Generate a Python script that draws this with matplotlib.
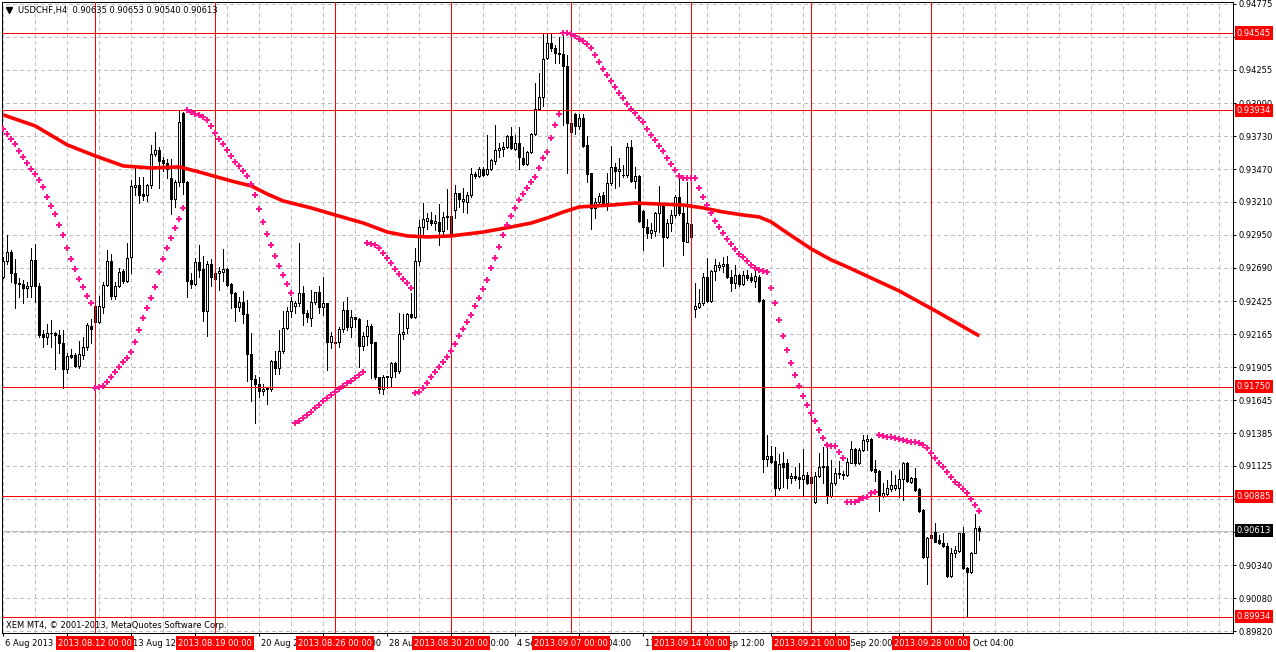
import matplotlib
matplotlib.use("Agg")
import matplotlib.pyplot as plt
import numpy as np

# ---- data ------------------------------------------------------------------
opens = [
    0.92620, 0.92747, 0.92813, 0.92647, 0.92573, 0.92563, 0.92528, 0.92547, 0.92750, 0.92547,
    0.92165, 0.92147, 0.92173, 0.92173, 0.92160, 0.92094, 0.91889, 0.91999, 0.91999, 0.91917,
    0.91999, 0.92068, 0.92231, 0.92389, 0.92265, 0.92384, 0.92555, 0.92744, 0.92470, 0.92547,
    0.92665, 0.92589, 0.92773, 0.93326, 0.93345, 0.93271, 0.93266, 0.93345, 0.93587, 0.93622,
    0.93543, 0.93516, 0.93398, 0.93232, 0.93366, 0.93911, 0.93366, 0.92595, 0.92560, 0.92734,
    0.92682, 0.92345, 0.92718, 0.92647, 0.92647, 0.92655, 0.92682, 0.92560, 0.92489, 0.92384,
    0.92418, 0.92324, 0.92008, 0.91813, 0.91776, 0.91713, 0.91734, 0.91734, 0.91950, 0.91902,
    0.92029, 0.92212, 0.92352, 0.92389, 0.92410, 0.92489, 0.92336, 0.92291, 0.92423, 0.92497,
    0.92378, 0.92410, 0.92107, 0.92107, 0.92107, 0.92204, 0.92357, 0.92220, 0.92299, 0.92283,
    0.92075, 0.92152, 0.92233, 0.92102, 0.91825, 0.91731, 0.91825, 0.91831, 0.91941, 0.91878,
    0.92168, 0.92212, 0.92323, 0.92299, 0.92744, 0.93010, 0.93063, 0.93068, 0.93042, 0.93050,
    0.92984, 0.93089, 0.93100, 0.93147, 0.93279, 0.93221, 0.93213, 0.93266, 0.93432, 0.93416,
    0.93468, 0.93429, 0.93468, 0.93537, 0.93621, 0.93632, 0.93642, 0.93732, 0.93626, 0.93674,
    0.93561, 0.93508, 0.93603, 0.93748, 0.93942, 0.94042, 0.94345, 0.94464, 0.94424, 0.94390,
    0.94379, 0.94285, 0.93837, 0.93906, 0.93811, 0.93871, 0.93661, 0.93437, 0.93160, 0.93213,
    0.93266, 0.93205, 0.93358, 0.93484, 0.93458, 0.93424, 0.93424, 0.93642, 0.93379, 0.93416,
    0.93142, 0.93016, 0.92968, 0.92984, 0.93126, 0.93195, 0.92931, 0.93047, 0.93105, 0.93252,
    0.93126, 0.92897, 0.93037, 0.92363, 0.92384, 0.92410, 0.92615, 0.92431, 0.92665, 0.92699,
    0.92705, 0.92720, 0.92615, 0.92573, 0.92634, 0.92562, 0.92634, 0.92615, 0.92589, 0.92615,
    0.92436, 0.91178, 0.91204, 0.91164, 0.90948, 0.91146, 0.91146, 0.91027, 0.91046, 0.91035,
    0.91020, 0.91054, 0.91041, 0.90843, 0.91046, 0.91125, 0.91125, 0.90888, 0.90988, 0.91062,
    0.91062, 0.91054, 0.91151, 0.91256, 0.91146, 0.91251, 0.91325, 0.91335, 0.91098, 0.91085,
    0.90888, 0.90903, 0.90940, 0.90948, 0.90948, 0.91019, 0.91151, 0.91001, 0.91027, 0.90943,
    0.90777, 0.90403, 0.90580, 0.90606, 0.90540, 0.90514, 0.90493, 0.90256, 0.90435, 0.90456,
    0.90593, 0.90316, 0.90290, 0.90440, 0.90635,
]
highs = [
    0.92779, 0.92950, 0.92831, 0.92757, 0.92613, 0.92594, 0.92581, 0.92844, 0.92879, 0.92573,
    0.92199, 0.92247, 0.92278, 0.92186, 0.92199, 0.92199, 0.92015, 0.92047, 0.92015, 0.92112,
    0.92141, 0.92252, 0.92283, 0.92402, 0.92468, 0.92581, 0.92831, 0.92800, 0.92581, 0.92686,
    0.92678, 0.92884, 0.93384, 0.93476, 0.93405, 0.93410, 0.93350, 0.93661, 0.93761, 0.93648,
    0.93569, 0.93550, 0.93550, 0.93385, 0.93934, 0.93920, 0.93377, 0.92647, 0.92766, 0.92871,
    0.92787, 0.92740, 0.92761, 0.92687, 0.92700, 0.92840, 0.92692, 0.92568, 0.92497, 0.92463,
    0.92503, 0.92437, 0.92173, 0.91844, 0.91831, 0.91771, 0.91739, 0.91963, 0.92029, 0.92200,
    0.92345, 0.92383, 0.92462, 0.92431, 0.92884, 0.92547, 0.92357, 0.92515, 0.92502, 0.92547,
    0.92620, 0.92415, 0.92186, 0.92120, 0.92226, 0.92423, 0.92457, 0.92357, 0.92304, 0.92291,
    0.92186, 0.92278, 0.92247, 0.92107, 0.91831, 0.91841, 0.91836, 0.91949, 0.91949, 0.92336,
    0.92326, 0.92336, 0.92489, 0.92844, 0.93068, 0.93200, 0.93126, 0.93134, 0.93108, 0.93195,
    0.93134, 0.93310, 0.93108, 0.93345, 0.93284, 0.93318, 0.93292, 0.93476, 0.93450, 0.93489,
    0.93484, 0.93740, 0.93547, 0.93819, 0.93674, 0.93687, 0.93740, 0.93805, 0.93740, 0.93805,
    0.93647, 0.93616, 0.93753, 0.94148, 0.94227, 0.94543, 0.94545, 0.94543, 0.94451, 0.94516,
    0.94530, 0.94372, 0.93906, 0.93916, 0.93906, 0.93906, 0.93732, 0.93442, 0.93239, 0.93284,
    0.93292, 0.93442, 0.93653, 0.93521, 0.93555, 0.93503, 0.93674, 0.93700, 0.93489, 0.93424,
    0.93147, 0.93073, 0.93042, 0.93134, 0.93337, 0.93200, 0.93073, 0.93147, 0.93266, 0.93397,
    0.93173, 0.93371, 0.93042, 0.92568, 0.92521, 0.92652, 0.92765, 0.92673, 0.92757, 0.92739,
    0.92778, 0.92784, 0.92673, 0.92713, 0.92641, 0.92668, 0.92673, 0.92652, 0.92699, 0.92634,
    0.92441, 0.91370, 0.91283, 0.91272, 0.91220, 0.91238, 0.91178, 0.91072, 0.91120, 0.91146,
    0.91257, 0.91080, 0.91072, 0.91080, 0.91225, 0.91278, 0.91304, 0.91172, 0.91106, 0.91167,
    0.91088, 0.91185, 0.91325, 0.91264, 0.91264, 0.91370, 0.91370, 0.91343, 0.91172, 0.91093,
    0.90988, 0.91014, 0.91088, 0.91054, 0.91093, 0.91159, 0.91159, 0.91040, 0.91106, 0.90948,
    0.90782, 0.90566, 0.90593, 0.90672, 0.90580, 0.90598, 0.90514, 0.90474, 0.90493, 0.90598,
    0.90645, 0.90324, 0.90448, 0.90745, 0.90653,
]
lows = [
    0.92607, 0.92721, 0.92581, 0.92370, 0.92457, 0.92410, 0.92463, 0.92463, 0.92418, 0.92147,
    0.92062, 0.92089, 0.92068, 0.91889, 0.92015, 0.91739, 0.91862, 0.91975, 0.91910, 0.91896,
    0.91968, 0.92041, 0.92094, 0.92257, 0.92257, 0.92336, 0.92547, 0.92441, 0.92441, 0.92542,
    0.92573, 0.92581, 0.92652, 0.93266, 0.93205, 0.93226, 0.93219, 0.93319, 0.93577, 0.93319,
    0.93456, 0.93398, 0.93113, 0.93171, 0.93340, 0.93271, 0.92463, 0.92529, 0.92555, 0.92621,
    0.92271, 0.92155, 0.92547, 0.92595, 0.92516, 0.92582, 0.92550, 0.92371, 0.92266, 0.92345,
    0.92252, 0.91792, 0.91634, 0.91463, 0.91673, 0.91686, 0.91613, 0.91713, 0.91850, 0.91850,
    0.92015, 0.92204, 0.92299, 0.92336, 0.92389, 0.92239, 0.92265, 0.92231, 0.92405, 0.92331,
    0.92318, 0.91883, 0.92054, 0.92067, 0.92067, 0.92186, 0.92199, 0.92147, 0.92226, 0.91909,
    0.92041, 0.92081, 0.91817, 0.91809, 0.91699, 0.91694, 0.91738, 0.91752, 0.91831, 0.91857,
    0.92125, 0.92178, 0.92291, 0.92291, 0.92713, 0.92936, 0.92994, 0.93029, 0.92989, 0.92871,
    0.92950, 0.92994, 0.92958, 0.93081, 0.93168, 0.93134, 0.93121, 0.93252, 0.93397, 0.93410,
    0.93418, 0.93424, 0.93463, 0.93511, 0.93568, 0.93574, 0.93634, 0.93626, 0.93621, 0.93468,
    0.93503, 0.93503, 0.93595, 0.93740, 0.93937, 0.93969, 0.94337, 0.94406, 0.94311, 0.94311,
    0.93819, 0.93442, 0.93748, 0.93748, 0.93784, 0.93642, 0.93371, 0.92997, 0.93081, 0.93200,
    0.93195, 0.93147, 0.93345, 0.93318, 0.93337, 0.93410, 0.93410, 0.93371, 0.93318, 0.93055,
    0.92831, 0.92923, 0.92923, 0.92942, 0.92976, 0.92705, 0.92923, 0.92984, 0.93094, 0.93108,
    0.92792, 0.92892, 0.92937, 0.92305, 0.92370, 0.92397, 0.92423, 0.92423, 0.92594, 0.92673,
    0.92660, 0.92607, 0.92510, 0.92528, 0.92547, 0.92555, 0.92594, 0.92581, 0.92536, 0.92423,
    0.91080, 0.91125, 0.91146, 0.90888, 0.90935, 0.90956, 0.90948, 0.90988, 0.91014, 0.90948,
    0.90896, 0.90983, 0.90896, 0.90835, 0.91041, 0.90993, 0.90835, 0.90883, 0.90975, 0.91027,
    0.91020, 0.91046, 0.91146, 0.91133, 0.91138, 0.91246, 0.91251, 0.91085, 0.91009, 0.90772,
    0.90882, 0.90896, 0.90930, 0.90935, 0.90877, 0.90856, 0.91001, 0.90988, 0.90930, 0.90764,
    0.90395, 0.90193, 0.90545, 0.90527, 0.90509, 0.90488, 0.90251, 0.90251, 0.90403, 0.90448,
    0.90308, 0.89934, 0.90277, 0.90435, 0.90540,
]
closes = [
    0.92747, 0.92813, 0.92647, 0.92568, 0.92560, 0.92528, 0.92547, 0.92750, 0.92547, 0.92160,
    0.92147, 0.92173, 0.92178, 0.92157, 0.92094, 0.91889, 0.91994, 0.91989, 0.91917, 0.92007,
    0.92062, 0.92239, 0.92205, 0.92265, 0.92389, 0.92555, 0.92744, 0.92470, 0.92547, 0.92657,
    0.92589, 0.92765, 0.93337, 0.93345, 0.93266, 0.93258, 0.93345, 0.93587, 0.93622, 0.93537,
    0.93522, 0.93471, 0.93232, 0.93366, 0.93840, 0.93366, 0.92582, 0.92560, 0.92734, 0.92676,
    0.92345, 0.92718, 0.92621, 0.92600, 0.92661, 0.92682, 0.92555, 0.92489, 0.92384, 0.92418,
    0.92324, 0.92008, 0.91813, 0.91776, 0.91713, 0.91734, 0.91739, 0.91955, 0.91902, 0.92029,
    0.92213, 0.92352, 0.92431, 0.92410, 0.92489, 0.92331, 0.92305, 0.92423, 0.92497, 0.92378,
    0.92410, 0.92107, 0.92152, 0.92099, 0.92204, 0.92357, 0.92220, 0.92299, 0.92283, 0.92075,
    0.92152, 0.92233, 0.92099, 0.91825, 0.91731, 0.91831, 0.91836, 0.91941, 0.91878, 0.92168,
    0.92186, 0.92323, 0.92299, 0.92744, 0.93010, 0.93073, 0.93081, 0.93042, 0.93060, 0.92984,
    0.93089, 0.93100, 0.92963, 0.93279, 0.93231, 0.93231, 0.93266, 0.93432, 0.93416, 0.93468,
    0.93424, 0.93468, 0.93542, 0.93621, 0.93634, 0.93647, 0.93732, 0.93634, 0.93674, 0.93563,
    0.93508, 0.93603, 0.93748, 0.93942, 0.94042, 0.94337, 0.94464, 0.94424, 0.94390, 0.94379,
    0.94285, 0.93837, 0.93766, 0.93811, 0.93871, 0.93653, 0.93432, 0.93160, 0.93213, 0.93258,
    0.93205, 0.93358, 0.93484, 0.93458, 0.93471, 0.93424, 0.93642, 0.93379, 0.93416, 0.93063,
    0.93016, 0.92968, 0.92989, 0.93126, 0.93195, 0.92931, 0.93047, 0.93105, 0.93252, 0.93126,
    0.92905, 0.93047, 0.92937, 0.92389, 0.92410, 0.92615, 0.92431, 0.92665, 0.92713, 0.92713,
    0.92720, 0.92615, 0.92573, 0.92634, 0.92562, 0.92634, 0.92607, 0.92594, 0.92626, 0.92431,
    0.91178, 0.91204, 0.91159, 0.90948, 0.91141, 0.91120, 0.91027, 0.91046, 0.91027, 0.91020,
    0.91054, 0.90993, 0.90993, 0.91046, 0.91120, 0.91114, 0.90888, 0.90988, 0.91072, 0.91072,
    0.91054, 0.91159, 0.91256, 0.91146, 0.91251, 0.91330, 0.91335, 0.91093, 0.91080, 0.90888,
    0.90914, 0.90948, 0.90975, 0.90975, 0.91019, 0.91151, 0.91009, 0.91027, 0.90935, 0.90772,
    0.90403, 0.90553, 0.90553, 0.90527, 0.90514, 0.90493, 0.90256, 0.90435, 0.90461, 0.90593,
    0.90316, 0.90290, 0.90440, 0.90632, 0.90613,
]
sar = [
    0.93784, 0.93745, 0.93705, 0.93666, 0.93613, 0.93563, 0.93516, 0.93468, 0.93429, 0.93381,
    0.93326, 0.93247, 0.93176, 0.93113, 0.93026, 0.92947, 0.92847, 0.92757, 0.92678, 0.92599,
    0.92536, 0.92468, 0.92410, 0.91739, 0.91746, 0.91757, 0.91786, 0.91825, 0.91865, 0.91904,
    0.91944, 0.91975, 0.92023, 0.92102, 0.92197, 0.92291, 0.92371, 0.92450, 0.92542, 0.92655,
    0.92758, 0.92845, 0.92924, 0.93003, 0.93074, 0.93161, 0.93934, 0.93920, 0.93908, 0.93895,
    0.93880, 0.93856, 0.93809, 0.93753, 0.93706, 0.93666, 0.93619, 0.93571, 0.93529, 0.93493,
    0.93453, 0.93414, 0.93350, 0.93266, 0.93153, 0.93050, 0.92955, 0.92869, 0.92782, 0.92703,
    0.92634, 0.92560, 0.92489, 0.91464, 0.91480, 0.91504, 0.91528, 0.91551, 0.91583, 0.91607,
    0.91638, 0.91662, 0.91686, 0.91709, 0.91733, 0.91757, 0.91780, 0.91796, 0.91820, 0.91844,
    0.91867, 0.92889, 0.92878, 0.92871, 0.92844, 0.92810, 0.92765, 0.92726, 0.92678, 0.92641,
    0.92599, 0.92568, 0.92528, 0.91704, 0.91712, 0.91738, 0.91778, 0.91825, 0.91865, 0.91904,
    0.91944, 0.91983, 0.92033, 0.92089, 0.92152, 0.92205, 0.92260, 0.92315, 0.92389, 0.92452,
    0.92523, 0.92594, 0.92686, 0.92765, 0.92858, 0.92947, 0.93026, 0.93097, 0.93160, 0.93224,
    0.93271, 0.93318, 0.93366, 0.93408, 0.93476, 0.93558, 0.93603, 0.93713, 0.93816, 0.93903,
    0.94545, 0.94543, 0.94537, 0.94522, 0.94495, 0.94482, 0.94458, 0.94424, 0.94372, 0.94314,
    0.94258, 0.94211, 0.94166, 0.94116, 0.94071, 0.94029, 0.93984, 0.93945, 0.93911, 0.93874,
    0.93840, 0.93784, 0.93737, 0.93700, 0.93653, 0.93613, 0.93558, 0.93508, 0.93460, 0.93416,
    0.93397, 0.93397, 0.93397, 0.93397, 0.93318, 0.93247, 0.93187, 0.93121, 0.93063, 0.93010,
    0.92963, 0.92915, 0.92876, 0.92836, 0.92799, 0.92773, 0.92744, 0.92713, 0.92686, 0.92673,
    0.92665, 0.92657, 0.92528, 0.92410, 0.92278, 0.92152, 0.92041, 0.91936, 0.91844, 0.91757,
    0.91678, 0.91607, 0.91541, 0.91480, 0.91409, 0.91343, 0.91291, 0.91283, 0.91283, 0.91233,
    0.91185, 0.90838, 0.90838, 0.90843, 0.90856, 0.90869, 0.90882, 0.90909, 0.90922, 0.91370,
    0.91362, 0.91356, 0.91351, 0.91343, 0.91335, 0.91330, 0.91325, 0.91317, 0.91312, 0.91309,
    0.91291, 0.91264, 0.91225, 0.91185, 0.91146, 0.91114, 0.91075, 0.91035, 0.91001, 0.90975,
    0.90940, 0.90909, 0.90861, 0.90814, 0.90769,
]
ma_bars = [0, 8, 16, 23, 30, 37, 44, 49, 57, 62, 66, 70, 77, 83, 90, 96, 101, 106, 112, 120,
           127, 132, 136, 140, 144, 148, 152, 158, 164, 170, 175, 180, 185, 189, 192, 196, 199,
           202, 207, 211, 224, 234, 244]
ma_vals = [0.93898, 0.93811, 0.93661, 0.93574, 0.93495, 0.93479, 0.93487, 0.93447, 0.93376,
           0.93337, 0.93273, 0.93218, 0.93163, 0.93107, 0.93044, 0.92973, 0.92942, 0.92934,
           0.92942, 0.92973, 0.93013, 0.93044, 0.93084, 0.93131, 0.93171, 0.93179, 0.93186,
           0.93202, 0.93194, 0.93186, 0.93163, 0.93131, 0.93107, 0.93092, 0.93052, 0.92965,
           0.92902, 0.92839, 0.92752, 0.92697, 0.92507, 0.92333, 0.92152]

level_prices = [0.94545, 0.93934, 0.91750, 0.90885, 0.89934]
bid_price = 0.90613
price_ticks = [0.94775, 0.94515, 0.94255, 0.93990, 0.93730, 0.93470, 0.93210, 0.92950,
               0.92690, 0.92425, 0.92165, 0.91905, 0.91645, 0.91385, 0.91125, 0.90865,
               0.90605, 0.90340, 0.90080, 0.89820]
vline_bars = [23, 53, 83, 112, 142, 172, 202, 232]
vline_labels = ["2013.08.12 00:00", "2013.08.19 00:00", "2013.08.26 00:00", "2013.08.30 20:00",
                "2013.09.07 00:00", "2013.09.14 00:00", "2013.09.21 00:00", "2013.09.28 00:00"]
time_labels = ["6 Aug 2013", "8 Aug 20:00", "13 Aug 12:00", "16 Aug 04:00", "20 Aug 20:00",
               "23 Aug 12:00", "28 Aug 04:00", "30 Aug 20:00", "4 Sep 12:00", "9 Sep 04:00",
               "11 Sep 20:00", "16 Sep 12:00", "19 Sep 04:00", "23 Sep 20:00", "26 Sep 12:00",
               "1 Oct 04:00"]

# ---- figure ----------------------------------------------------------------
W, H = 1276, 652
plot_l, plot_r, plot_t, plot_b = 2, 1233, 2, 633
plt.rcParams["font.family"] = ["DejaVu Sans"]
FS = 6.0
PX = 0.72  # one pixel in points

fig = plt.figure(figsize=(W / 100, H / 100), dpi=100)
ax = fig.add_axes([plot_l / W, (H - plot_b) / H, (plot_r - plot_l) / W, (plot_b - plot_t) / H])
ax.set_xlim(-0.325, 307.425)
ax.set_ylim(0.89805, 0.94790)

o = np.array(opens)
h = np.array(highs)
lo = np.array(lows)
c = np.array(closes)
x = np.arange(len(o))

grid_kw = dict(color="#c0c0c0", linewidth=PX, linestyles=(0, (4, 3)), zorder=0.5, antialiased=False)
ax.hlines(price_ticks, -1, 310, **grid_kw)
ax.vlines(np.arange(0, 308, 8), 0.89, 0.95, **grid_kw)
ax.axhline(bid_price, color="#c0c0c0", linewidth=PX, zorder=0.6, antialiased=False)

# candles
ax.vlines(x, lo, h, color="black", linewidth=PX, zorder=2, antialiased=False)
up = c >= o
bottom = np.minimum(o, c)
height = np.abs(c - o)
ax.bar(x[up], height[up], bottom=bottom[up], width=0.5, facecolor="white",
       edgecolor="black", linewidth=PX, zorder=2.1, antialiased=False)
ax.bar(x[~up], height[~up], bottom=bottom[~up], width=0.5, facecolor="black",
       edgecolor="black", linewidth=PX, zorder=2.1, antialiased=False)

# objects
for p in level_prices:
    ax.axhline(p, color="red", linewidth=PX, zorder=3, antialiased=False)
for b in vline_bars:
    ax.axvline(b, color="red", linewidth=PX, zorder=3, antialiased=False)

ax.plot(ma_bars, ma_vals, color="red", linewidth=2.6, zorder=4, solid_capstyle="butt")
ax.plot(x, sar, linestyle="none", marker="P", markersize=3.8, markeredgewidth=0,
        color="#ff1493", zorder=5)

# frame
for s in ax.spines.values():
    s.set_color("black")
    s.set_linewidth(PX)

# price axis on the right
ax.yaxis.tick_right()
ax.set_yticks(price_ticks)
ax.set_yticklabels([f"{p:.5f}" for p in price_ticks])
ax.tick_params(axis="y", direction="out", length=2.2, width=PX, pad=1.5, labelsize=FS)
ax.set_xticks(np.arange(0, 241, 16))
ax.set_xticklabels([])
ax.tick_params(axis="x", direction="out", length=2.2, width=PX)

ytr = ax.get_yaxis_transform()
xtr = ax.get_xaxis_transform()
box_x = (1237 - plot_l) / (plot_r - plot_l)
for p in level_prices:
    ax.text(box_x, p, f"{p:.5f}", transform=ytr, color="white", fontsize=FS, ha="left",
            va="center", zorder=10, clip_on=False,
            bbox=dict(boxstyle="square,pad=0.25", facecolor="red", edgecolor="none"))
ax.text(box_x, bid_price, f"{bid_price:.5f}", transform=ytr, color="white", fontsize=FS,
        ha="left", va="center", zorder=10, clip_on=False,
        bbox=dict(boxstyle="square,pad=0.25", facecolor="black", edgecolor="none"))

# time labels and line labels
lab_y = -(643 - plot_b) / (plot_b - plot_t)
for k, t in enumerate(time_labels):
    ax.text(16 * k + 0.4, lab_y, t, transform=xtr, fontsize=FS, ha="left", va="center",
            zorder=8, clip_on=False)
for b, t in zip(vline_bars, vline_labels):
    ax.text(b, lab_y, t, transform=xtr, color="white", fontsize=FS, ha="center", va="center",
            zorder=10, clip_on=False,
            bbox=dict(boxstyle="square,pad=0.25", facecolor="red", edgecolor="none"))

# header and footer text
def ax_xy(px, py):
    return (px - plot_l) / (plot_r - plot_l), (plot_b - py) / (plot_b - plot_t)

ax.plot(*ax_xy(9, 10), marker="v", markersize=4, color="black", transform=ax.transAxes,
        clip_on=False, zorder=10)
ax.text(*ax_xy(18, 10), "USDCHF,H4  0.90635 0.90653 0.90540 0.90613", transform=ax.transAxes,
        fontsize=FS, ha="left", va="center", color="#000000", zorder=10)
ax.text(*ax_xy(6, 626), "XEM MT4, \u00a9 2001-2013, MetaQuotes Software Corp.",
        transform=ax.transAxes, fontsize=FS, ha="left", va="center", zorder=10)

fig.savefig("out.png", dpi=100, facecolor="white")
